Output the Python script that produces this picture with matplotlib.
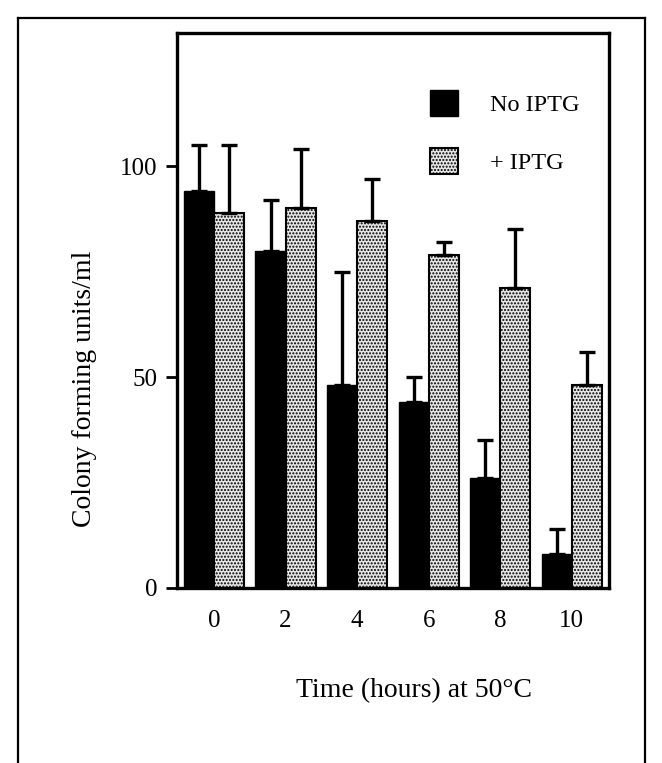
import numpy as np
from matplotlib import pyplot as plt
from matplotlib.lines import Line2D
from matplotlib.patches import Patch

# data
hours = ['0', '2', '4', '6', '8', '10']
no_iptg = [94, 80, 48, 44, 26, 8]
no_iptg_err = [11, 12, 27, 6, 9, 6]
plus_iptg = [89, 90, 87, 79, 71, 48]
plus_iptg_err = [16, 14, 10, 3, 14, 8]

plt.rcParams['font.family'] = ['Liberation Serif', 'DejaVu Serif']
plt.rcParams['hatch.color'] = '#7a7a7a'
plt.rcParams['hatch.linewidth'] = 1.0

fig = plt.figure(figsize=(6.62, 7.63), dpi=100)
ax = fig.add_axes([0.267, 0.2294, 0.653, 0.727])

x = np.arange(len(hours))
w = 0.42
err_kw = dict(elinewidth=2.4, capsize=5.5, capthick=2.4, ecolor='black')

ax.bar(x - w / 2, no_iptg, w, color='black', edgecolor='black',
       yerr=[np.zeros(len(x)), no_iptg_err], error_kw=err_kw)
ax.bar(x + w / 2, plus_iptg, w, color='#e6e6e6', edgecolor='black', linewidth=1.5,
       hatch='.....', yerr=[np.zeros(len(x)), plus_iptg_err], error_kw=err_kw)

ax.set_xlim(-0.52, 5.52)
ax.set_ylim(0, 131.5)
ax.set_yticks([0, 50, 100])
ax.set_xticks(x)
ax.set_xticklabels(hours)
ax.tick_params(axis='x', length=0, pad=16, labelsize=18)
ax.tick_params(axis='y', length=8, width=2, direction='out', labelsize=18, pad=6)
for s in ax.spines.values():
    s.set_linewidth(2.4)

ax.set_ylabel('Colony forming units/ml', fontsize=20)
ax.yaxis.set_label_coords(-0.185, 0.359)
ax.set_xlabel('Time (hours) at 50\u00b0C', fontsize=20, va='top')
ax.xaxis.set_label_coords(0.549, -0.162)

handles = [Patch(facecolor='black', edgecolor='black'),
           Patch(facecolor='#e6e6e6', edgecolor='black', hatch='.....', linewidth=1.5)]
ax.legend(handles, ['No IPTG', '+ IPTG'], loc='upper left', frameon=False,
          fontsize=17.5, handlelength=1.15, handleheight=1.25, handletextpad=1.3,
          labelspacing=1.3, borderpad=0, borderaxespad=0,
          bbox_to_anchor=(0.586, 0.897))

# outer frame around the figure (open at the bottom)
fw = 1.6
fig.add_artist(Line2D([18 / 662, 18 / 662], [0, 1 - 18 / 763], color='black', lw=fw))
fig.add_artist(Line2D([18 / 662, 645 / 662], [1 - 18 / 763, 1 - 18 / 763], color='black', lw=fw))
fig.add_artist(Line2D([645 / 662, 645 / 662], [0, 1 - 18 / 763], color='black', lw=fw))

fig.savefig('out.png', dpi=100)
